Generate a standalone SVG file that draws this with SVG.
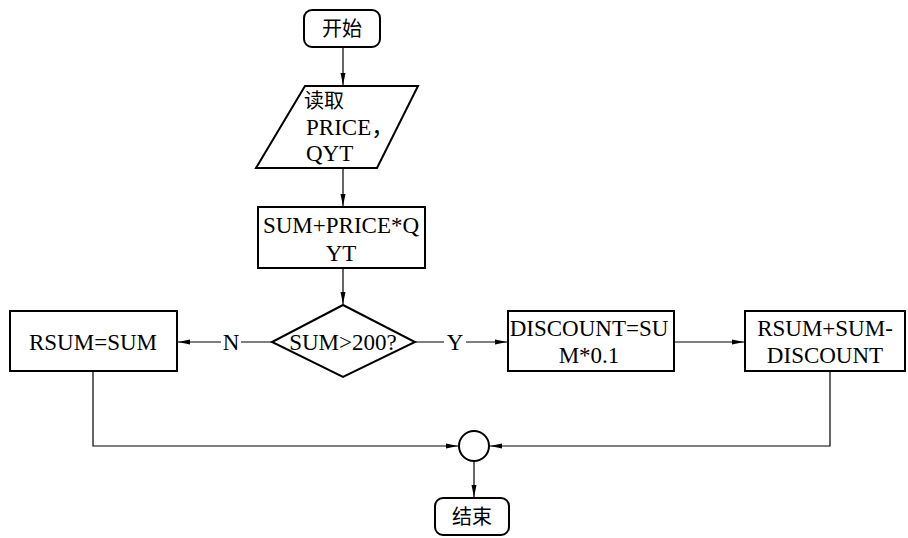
<svg xmlns="http://www.w3.org/2000/svg" width="908" height="538" viewBox="0 0 908 538">
<style>
.box{fill:#fff;stroke:#000;stroke-width:2}
.c{fill:none;stroke:#000;stroke-width:1.2}
.t{font-family:"Liberation Serif","Times New Roman","Noto Sans CJK SC",serif;font-size:23px;fill:#000}
.z{font-family:"Noto Sans CJK SC",sans-serif;font-size:20px;fill:#000}
.m{text-anchor:middle}
</style>
<defs>
<marker id="ah" markerWidth="12" markerHeight="6" refX="12" refY="3" orient="auto" markerUnits="userSpaceOnUse">
<path d="M0,0.5 L12,3 L0,5.5 Z" fill="#000"/>
</marker>
</defs>
<rect width="908" height="538" fill="#fff"/>
<g id="connectors">
<path class="c" d="M343,47 V85" marker-end="url(#ah)"/>
<path class="c" d="M343,168 V206" marker-end="url(#ah)"/>
<path class="c" d="M343,268 V304" marker-end="url(#ah)"/>
<path class="c" d="M272,342 H178" marker-end="url(#ah)"/>
<path class="c" d="M415,342 H507" marker-end="url(#ah)"/>
<path class="c" d="M674,342 H744" marker-end="url(#ah)"/>
<path class="c" d="M93,371 V446 H458" marker-end="url(#ah)"/>
<path class="c" d="M830,371 V446 H490" marker-end="url(#ah)"/>
<path class="c" d="M474,461 V497" marker-end="url(#ah)"/>
<rect x="221" y="331" width="20" height="22" fill="#fff"/>
<text class="t m" x="231" y="350">N</text>
<rect x="444" y="331" width="22" height="22" fill="#fff"/>
<text class="t m" x="455" y="350">Y</text>
</g>
<g id="start">
<rect class="box" x="304" y="10" width="76" height="37" rx="8"/>
<text class="z m" x="342" y="36">开始</text>
</g>
<g id="input">
<polygon class="box" points="305,86 418,86 377,168 256,168"/>
<text class="z" x="304" y="108">读取</text>
<text class="t" x="306" y="135">PRICE，</text>
<text class="t" x="306" y="161">QYT</text>
</g>
<g id="calc">
<rect class="box" x="258" y="207" width="167" height="61"/>
<text class="t m" x="341" y="233">SUM+PRICE*Q</text>
<text class="t m" x="341" y="261">YT</text>
</g>
<g id="decision">
<polygon class="box" points="343,305 415,342 343,377 272,342"/>
<text class="t m" x="343" y="350">SUM&gt;200?</text>
</g>
<g id="rsum1">
<rect class="box" x="10" y="311" width="167" height="60"/>
<text class="t m" x="93" y="350">RSUM=SUM</text>
</g>
<g id="discount">
<rect class="box" x="508" y="311" width="166" height="60"/>
<text class="t m" x="589" y="336">DISCOUNT=SU</text>
<text class="t m" x="589" y="363">M*0.1</text>
</g>
<g id="rsum2">
<rect class="box" x="745" y="311" width="160" height="60"/>
<text class="t m" x="825" y="336">RSUM+SUM-</text>
<text class="t m" x="825" y="363">DISCOUNT</text>
</g>
<g id="join">
<circle class="box" cx="474" cy="446" r="15"/>
</g>
<g id="end">
<rect class="box" x="435" y="498" width="74" height="37" rx="8"/>
<text class="z m" x="472" y="524">结束</text>
</g>
</svg>
